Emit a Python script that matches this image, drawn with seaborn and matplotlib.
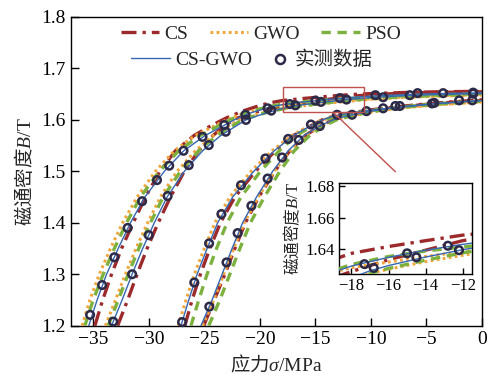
import matplotlib
matplotlib.use("Agg")
import matplotlib.pyplot as plt
import numpy as np
import pandas as pd
import seaborn as sns
from matplotlib.lines import Line2D
from matplotlib.patches import Rectangle

sns.set_theme(style="ticks")
plt.rcParams['font.family'] = ['Liberation Serif', 'Noto Sans CJK SC']
plt.rcParams['mathtext.fontset'] = 'custom'
plt.rcParams['mathtext.rm'] = 'Noto Sans CJK SC'
plt.rcParams['mathtext.it'] = 'Liberation Serif:italic'
plt.rcParams['mathtext.sf'] = 'Liberation Serif'
plt.rcParams['axes.unicode_minus'] = True

MODELS = ["CS", "GWO", "PSO", "CS-GWO"]

# ---- model curves: four branches (two loops, outer/inner), stress in MPa, B in T ----
# Branch A (left loop, outer)
cs_a_x = [-34.85, -34.15, -33.35, -32.45, -31.4, -30.3, -29.0, -27.6, -25.9, -24.3, -22.9, -21.5, -20.0, -19.0, -18.0, -16.0, -14.0, -12.0, -10.0, -7.0, -4.0, 0.0]
cs_a_y = [1.20, 1.25, 1.30, 1.35, 1.40, 1.45, 1.50, 1.54, 1.57, 1.59, 1.605, 1.6175, 1.628, 1.6335, 1.6375, 1.6418, 1.6455, 1.649, 1.6512, 1.6532, 1.6546, 1.6556]
gwo_a_x = [-36.0, -35.3, -34.45, -33.45, -32.35, -31.05, -29.4, -27.7, -25.8, -23.0, -21.5, -20.0, -19.0, -18.0, -16.0, -14.0, -12.0, -10.0, -7.0, -4.0, 0.0]
gwo_a_y = [1.20, 1.25, 1.30, 1.35, 1.40, 1.45, 1.50, 1.54, 1.57, 1.60, 1.613, 1.621, 1.6255, 1.6285, 1.632, 1.6355, 1.6385, 1.641, 1.6445, 1.647, 1.649]
pso_a_x = [-35.75, -35.0, -34.1, -33.1, -32.0, -30.75, -29.05, -27.3, -25.35, -22.7, -21.5, -20.0, -19.0, -18.0, -16.0, -14.0, -12.0, -10.0, -7.0, -4.0, 0.0]
pso_a_y = [1.20, 1.25, 1.30, 1.35, 1.40, 1.45, 1.50, 1.54, 1.57, 1.60, 1.6115, 1.6215, 1.6265, 1.6305, 1.6355, 1.639, 1.6415, 1.644, 1.647, 1.649, 1.651]
csgwo_a_x = [-35.4, -34.65, -33.8, -32.75, -31.65, -30.35, -28.6, -26.85, -24.9, -22.3, -21.0, -20.0, -19.0, -18.0, -16.0, -14.0, -12.0, -10.0, -7.0, -4.0, 0.0]
csgwo_a_y = [1.20, 1.25, 1.30, 1.35, 1.40, 1.45, 1.50, 1.54, 1.57, 1.60, 1.6125, 1.619, 1.6255, 1.6295, 1.635, 1.6395, 1.6432, 1.6462, 1.6492, 1.651, 1.6525]

# Branch B (left loop, inner)
cs_b_x = [-32.8, -31.9, -31.05, -30.15, -29.15, -28.05, -26.8, -25.5, -24.2, -23.1, -22.2, -21.0, -20.0, -19.0, -18.0, -16.0, -14.0, -12.0, -10.0, -7.0, -4.0, 0.0]
cs_b_y = [1.20, 1.25, 1.30, 1.35, 1.40, 1.45, 1.50, 1.54, 1.57, 1.59, 1.602, 1.6115, 1.617, 1.622, 1.626, 1.6335, 1.6395, 1.6455, 1.649, 1.652, 1.6535, 1.6545]
gwo_b_x = [-33.9, -33.0, -32.1, -31.15, -30.1, -28.95, -27.45, -25.8, -24.15, -21.9, -20.5, -19.0, -18.0, -17.0, -16.0, -14.0, -12.0, -10.0, -7.0, -4.0, 0.0]
gwo_b_y = [1.20, 1.25, 1.30, 1.35, 1.40, 1.45, 1.50, 1.54, 1.57, 1.60, 1.6095, 1.6175, 1.6215, 1.6248, 1.6275, 1.6323, 1.6363, 1.640, 1.6437, 1.646, 1.648]
pso_b_x = [-33.65, -32.75, -31.85, -30.9, -29.85, -28.7, -27.15, -25.5, -23.85, -21.6, -20.2, -19.0, -18.0, -17.0, -16.0, -14.0, -12.0, -10.0, -7.0, -4.0, 0.0]
pso_b_y = [1.20, 1.25, 1.30, 1.35, 1.40, 1.45, 1.50, 1.54, 1.57, 1.60, 1.6095, 1.6165, 1.621, 1.6248, 1.628, 1.6332, 1.6378, 1.6415, 1.645, 1.6475, 1.6495]
csgwo_b_x = [-33.35, -32.4, -31.5, -30.55, -29.5, -28.35, -26.8, -25.15, -23.5, -21.25, -20.0, -19.0, -18.0, -17.0, -16.0, -14.0, -12.0, -10.0, -7.0, -4.0, 0.0]
csgwo_b_y = [1.20, 1.25, 1.30, 1.35, 1.40, 1.45, 1.50, 1.54, 1.57, 1.60, 1.6095, 1.616, 1.622, 1.6265, 1.6298, 1.6352, 1.6398, 1.6435, 1.647, 1.6495, 1.651]

# Branch C (right loop, outer)
cs_c_x = [-26.75, -26.1, -25.35, -24.5, -23.55, -22.25, -20.4, -18.6, -16.95, -15.3, -14.4, -13.4, -11.8, -10.0, -7.0, -4.0, 0.0]
cs_c_y = [1.20, 1.25, 1.30, 1.35, 1.40, 1.45, 1.50, 1.54, 1.57, 1.59, 1.60, 1.607, 1.614, 1.6195, 1.627, 1.633, 1.639]
gwo_c_x = [-27.35, -26.65, -25.9, -25.0, -24.05, -22.7, -20.8, -18.9, -17.1, -15.4, -14.5, -13.4, -11.8, -10.0, -7.0, -4.0, 0.0]
gwo_c_y = [1.20, 1.25, 1.30, 1.35, 1.40, 1.45, 1.50, 1.54, 1.57, 1.59, 1.599, 1.6055, 1.612, 1.6175, 1.624, 1.6295, 1.635]
pso_c_x = [-26.2, -25.5, -24.75, -23.9, -22.95, -21.7, -19.95, -18.25, -16.7, -15.1, -14.2, -13.2, -11.7, -10.0, -7.0, -4.0, 0.0]
pso_c_y = [1.20, 1.25, 1.30, 1.35, 1.40, 1.45, 1.50, 1.54, 1.57, 1.59, 1.60, 1.6065, 1.613, 1.6185, 1.6255, 1.6315, 1.6365]
csgwo_c_x = [-27.1, -26.4, -25.65, -24.75, -23.8, -22.45, -20.55, -18.7, -16.95, -15.3, -14.4, -13.4, -11.8, -10.0, -7.0, -4.0, 0.0]
csgwo_c_y = [1.20, 1.25, 1.30, 1.35, 1.40, 1.45, 1.50, 1.54, 1.57, 1.59, 1.60, 1.607, 1.6135, 1.619, 1.626, 1.632, 1.638]

# Branch D (right loop, inner)
cs_d_x = [-25.05, -24.1, -23.15, -22.25, -21.3, -20.1, -18.65, -17.3, -15.9, -14.4, -13.4, -12.3, -10.8, -9.0, -7.0, -4.0, 0.0]
cs_d_y = [1.20, 1.25, 1.30, 1.35, 1.40, 1.45, 1.50, 1.54, 1.57, 1.59, 1.60, 1.607, 1.614, 1.621, 1.626, 1.6325, 1.638]
gwo_d_x = [-25.15, -24.15, -23.25, -22.35, -21.4, -20.15, -18.7, -17.3, -15.85, -14.3, -13.2, -12.1, -10.6, -9.0, -7.0, -4.0, 0.0]
gwo_d_y = [1.20, 1.25, 1.30, 1.35, 1.40, 1.45, 1.50, 1.54, 1.57, 1.59, 1.60, 1.6065, 1.6125, 1.6185, 1.6235, 1.6295, 1.635]
pso_d_x = [-24.6, -23.6, -22.7, -21.8, -20.85, -19.6, -18.2, -16.9, -15.5, -14.05, -13.1, -12.0, -10.6, -9.0, -7.0, -4.0, 0.0]
pso_d_y = [1.20, 1.25, 1.30, 1.35, 1.40, 1.45, 1.50, 1.54, 1.57, 1.59, 1.60, 1.6065, 1.613, 1.6195, 1.625, 1.631, 1.6365]
csgwo_d_x = [-25.3, -24.3, -23.4, -22.5, -21.55, -20.3, -18.85, -17.45, -16.0, -14.45, -13.4, -12.3, -10.8, -9.0, -7.0, -4.0, 0.0]
csgwo_d_y = [1.20, 1.25, 1.30, 1.35, 1.40, 1.45, 1.50, 1.54, 1.57, 1.59, 1.60, 1.607, 1.6135, 1.6205, 1.6255, 1.6318, 1.6375]

# ---- measured points ----
meas_a_x = [-35.28, -34.2, -33.1, -31.9, -30.6, -29.26, -28.16, -26.87, -25.16, -23.2, -21.3, -19.3, -17.3, -15.0, -12.8, -9.6, -5.8, -3.5, -0.8]
meas_a_y = [1.221, 1.279, 1.333, 1.390, 1.442, 1.483, 1.511, 1.540, 1.567, 1.590, 1.610, 1.6225, 1.6307, 1.6375, 1.6423, 1.648, 1.652, 1.652, 1.653]
meas_b_x = [-33.2, -31.5, -30.0, -28.3, -26.4, -24.6, -23.07, -21.25, -18.97, -16.8, -14.5, -12.2, -8.9, -6.5, -0.8]
meas_b_y = [1.208, 1.300, 1.376, 1.452, 1.512, 1.551, 1.577, 1.600, 1.618, 1.6283, 1.635, 1.6395, 1.644, 1.648, 1.651]
meas_c_x = [-27.0, -25.9, -24.57, -23.46, -21.7, -19.5, -17.45, -15.4, -13.05, -10.4, -7.8, -4.5, -2.06]
meas_c_y = [1.207, 1.284, 1.360, 1.417, 1.473, 1.525, 1.563, 1.591, 1.610, 1.617, 1.627, 1.632, 1.638]
meas_d_x = [-24.55, -23.0, -22.0, -20.76, -19.3, -18.0, -16.5, -14.6, -11.7, -8.9, -7.4, -4.3, -0.87]
meas_d_y = [1.237, 1.323, 1.380, 1.433, 1.486, 1.527, 1.561, 1.588, 1.610, 1.6225, 1.627, 1.633, 1.638]

curve_table = [
    ("CS", "A", cs_a_x, cs_a_y), ("CS", "B", cs_b_x, cs_b_y),
    ("CS", "C", cs_c_x, cs_c_y), ("CS", "D", cs_d_x, cs_d_y),
    ("GWO", "A", gwo_a_x, gwo_a_y), ("GWO", "B", gwo_b_x, gwo_b_y),
    ("GWO", "C", gwo_c_x, gwo_c_y), ("GWO", "D", gwo_d_x, gwo_d_y),
    ("PSO", "A", pso_a_x, pso_a_y), ("PSO", "B", pso_b_x, pso_b_y),
    ("PSO", "C", pso_c_x, pso_c_y), ("PSO", "D", pso_d_x, pso_d_y),
    ("CS-GWO", "A", csgwo_a_x, csgwo_a_y), ("CS-GWO", "B", csgwo_b_x, csgwo_b_y),
    ("CS-GWO", "C", csgwo_c_x, csgwo_c_y), ("CS-GWO", "D", csgwo_d_x, csgwo_d_y),
]
curves = pd.concat(
    [pd.DataFrame({"model": m, "branch": b, "stress": x, "B": y}) for m, b, x, y in curve_table],
    ignore_index=True)
meas = pd.DataFrame({
    "stress": meas_a_x + meas_b_x + meas_c_x + meas_d_x,
    "B": meas_a_y + meas_b_y + meas_c_y + meas_d_y,
})

COLORS = {"CS": "#9c2a2c", "GWO": "#f2a53b", "PSO": "#7db13f", "CS-GWO": "#3567b2"}
WIDTHS = {"CS": 2.4, "GWO": 2.2, "PSO": 2.4, "CS-GWO": 1.0}
STYLES = {"CS": (0, (4.5, 1.8, 1.0, 1.8)), "GWO": (0, (0.9, 1.1)),
          "PSO": (0, (2.8, 2.0)), "CS-GWO": "-"}
MARK_EC = "#2c2a48"
BOX_C = "#c0504d"


def draw(ax, clip_markers):
    for i, m in enumerate(MODELS):
        sns.lineplot(data=curves[curves["model"] == m], x="stress", y="B",
                     units="branch", estimator=None, sort=False,
                     color=COLORS[m], linewidth=WIDTHS[m], linestyle=STYLES[m],
                     legend=False, ax=ax, zorder=2 + i)
    sns.scatterplot(data=meas, x="stress", y="B", marker="o", s=30,
                    facecolors="none", edgecolor=MARK_EC, linewidth=1.8,
                    legend=False, ax=ax, zorder=10, clip_on=clip_markers)


fig = plt.figure(figsize=(4.89, 3.76), dpi=100)
ax = fig.add_axes([0.1452, 0.1338, 0.8405, 0.821])
draw(ax, clip_markers=False)

ax.set_xlim(-37, 0)
ax.set_ylim(1.2, 1.8)
ax.set_xticks([-35, -30, -25, -20, -15, -10, -5, 0])
ax.set_yticks([1.2, 1.3, 1.4, 1.5, 1.6, 1.7, 1.8])
ax.tick_params(direction="in", length=6, width=1, labelsize=14, pad=4,
               top=False, right=False, colors="black")
for s in ax.spines.values():
    s.set_linewidth(1.0)
    s.set_color("black")
ax.set_xlabel(r"$\mathrm{应力}\sigma\mathsf{/MPa}$", fontsize=14, labelpad=3)
ax.set_ylabel(r"$\mathrm{磁通密度}B\mathsf{/T}$", fontsize=14, labelpad=4)

# zoom box and connector
ax.add_patch(Rectangle((-17.9, 1.6148), 7.25, 0.0497, fill=False,
                       edgecolor=BOX_C, linewidth=1.0, zorder=12))
ax.plot([-13.4, -7.8], [1.6148, 1.4993], color=BOX_C, linewidth=1.0, zorder=12)

# legends: first row of three models, second row split in two pieces
h1 = [Line2D([], [], color=COLORS[m], linewidth=WIDTHS[m], linestyle=STYLES[m], label=m)
      for m in ["CS", "GWO", "PSO"]]
h2 = [Line2D([], [], color=COLORS["CS-GWO"], linewidth=1.0, label="CS-GWO")]
h3 = [Line2D([], [], color=MARK_EC, marker="o", linestyle="none", markersize=6.5,
             markerfacecolor="none", markeredgewidth=1.8, label="实测数据")]
common = dict(loc="center", frameon=False, fontsize=14,
              handletextpad=0.25, borderpad=0, borderaxespad=0)
fig.legend(handles=h1, bbox_to_anchor=(0.533, 0.909), ncol=3, columnspacing=1.1,
           handlelength=2.0, **common)
fig.legend(handles=h2, bbox_to_anchor=(0.392, 0.840), handlelength=2.0, **common)
fig.legend(handles=h3, bbox_to_anchor=(0.657, 0.840), handlelength=1.0, **common)

# inset
axi = fig.add_axes([0.693, 0.271, 0.2726, 0.2428])
draw(axi, clip_markers=True)
axi.set_xlim(-18.68, -11.49)
axi.set_ylim(1.6244, 1.682)
axi.set_xticks([-18, -16, -14, -12])
axi.set_yticks([1.64, 1.66, 1.68])
axi.tick_params(direction="in", length=4, width=1, labelsize=12, pad=3,
                top=False, right=False, colors="black")
for s in axi.spines.values():
    s.set_linewidth(1.0)
    s.set_color("black")
axi.set_xlabel("")
axi.set_ylabel(r"$\mathrm{磁通密度}B\mathsf{/T}$", fontsize=12, labelpad=2)
axi.set_facecolor("white")

fig.savefig("out.png", dpi=100, facecolor="white")
